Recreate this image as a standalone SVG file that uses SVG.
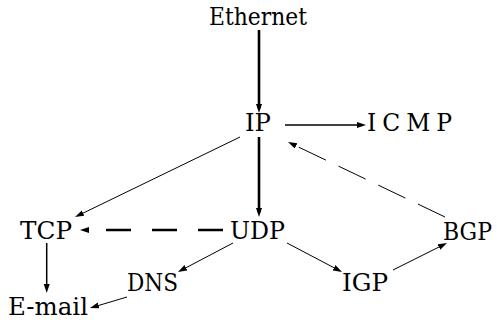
<svg xmlns="http://www.w3.org/2000/svg" width="497" height="320" viewBox="0 0 497 320">
<style>
.lbl{font-family:'DejaVu Serif',serif;font-size:23.5px;fill:#000}
.c line{stroke:#000;fill:none}
.thick{stroke-width:2.6}
.mid{stroke-width:1.5}
.thin{stroke-width:1}
</style>
<defs>
<marker id="ah" markerUnits="userSpaceOnUse" markerWidth="10" markerHeight="7" refX="5" refY="3" orient="auto" viewBox="0 0 10 7">
<path d="M0,0 L9,3 L0,6 z" fill="#000"/>
</marker>
</defs>
<rect width="497" height="320" fill="#fff"/>
<g class="c" id="connectors">
<line class="thick" x1="259" y1="30" x2="259" y2="109" marker-end="url(#ah)"/>
<line class="mid" x1="285" y1="125" x2="362" y2="125" marker-end="url(#ah)"/>
<line class="thick" x1="259" y1="137" x2="259" y2="213" marker-end="url(#ah)"/>
<line class="thin" x1="240" y1="137" x2="78.6" y2="215.3" marker-end="url(#ah)"/>
<line class="thick" x1="223" y1="230" x2="106" y2="230" stroke-dasharray="25 21"/>
<line class="thin" x1="88" y1="230" x2="84" y2="230" marker-end="url(#ah)"/>
<line class="mid" x1="46.7" y1="243" x2="46.7" y2="289" marker-end="url(#ah)"/>
<line class="thin" x1="233" y1="243" x2="181.5" y2="270.1" marker-end="url(#ah)"/>
<line class="thin" x1="127" y1="297" x2="93.8" y2="306.9" marker-end="url(#ah)"/>
<line class="thin" x1="287" y1="243" x2="338.5" y2="270.1" marker-end="url(#ah)"/>
<line class="thin" x1="393" y1="270" x2="443.4" y2="244.8" marker-end="url(#ah)"/>
<line class="thin" x1="445" y1="217" x2="298" y2="146.8" stroke-dasharray="30 14"/>
<line class="thin" x1="294.3" y1="145" x2="291.6" y2="143.7" marker-end="url(#ah)"/>
</g>
<g class="lbl">
<g id="ethernet"><text x="209" y="25" textLength="98" lengthAdjust="spacingAndGlyphs">Ethernet</text></g>
<g id="ip"><text x="245" y="131" textLength="26" lengthAdjust="spacingAndGlyphs">IP</text></g>
<g id="icmp"><text x="367" y="131" textLength="85" lengthAdjust="spacing">ICMP</text></g>
<g id="tcp"><text x="20" y="239" textLength="52" lengthAdjust="spacingAndGlyphs">TCP</text></g>
<g id="udp"><text x="230" y="239" textLength="55" lengthAdjust="spacingAndGlyphs">UDP</text></g>
<g id="bgp"><text x="443" y="240" textLength="49" lengthAdjust="spacingAndGlyphs">BGP</text></g>
<g id="dns"><text x="127" y="291" textLength="51" lengthAdjust="spacingAndGlyphs">DNS</text></g>
<g id="igp"><text x="342" y="291" textLength="46" lengthAdjust="spacingAndGlyphs">IGP</text></g>
<g id="email"><text x="8" y="315" textLength="80" lengthAdjust="spacingAndGlyphs">E-mail</text></g>
</g>
</svg>
